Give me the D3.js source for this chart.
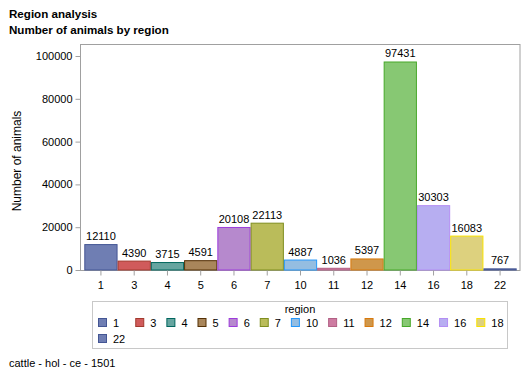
<!DOCTYPE html>
<html>
<head>
<meta charset="utf-8">
<script src="https://cdn.jsdelivr.net/npm/d3@7"></script>
<style>
  body { margin: 0; background: #fff; }
  text { font-family: "Liberation Sans", Arial, sans-serif; fill: #000; }
</style>
</head>
<body>
<div id="chart"></div>
<script>
const width = 529, height = 377,
    margin = ({ top: 44, right: 9, bottom: 107, left: 80 });

// data
const regions = ["1", "3", "4", "5", "6", "7", "10", "11", "12", "14", "16", "18", "22"];
const animals = [12110, 4390, 3715, 4591, 20108, 22113, 4887, 1036, 5397, 97431, 30303, 16083, 767];
const fills = ["#6F7EB3", "#D05B5B", "#66A5A0", "#A9865B", "#B689CD", "#BABC5A", "#94BDE1",
    "#CD7BA1", "#CF974B", "#87C873", "#B7AEF1", "#DDD17E", "#6F7EB3"];
const strokes = ["#445694", "#A23A2E", "#01665E", "#543005", "#9D3CDB", "#7F8E1F", "#2597FA",
    "#B26084", "#D8790D", "#47A82A", "#B38EF3", "#F9E200", "#445694"];
const yTicks = [0, 20000, 40000, 60000, 80000, 100000];

const svg = d3.select("#chart")
    .append("svg")
    .attr("width", width)
    .attr("height", height);

// titles
svg.append("text").attr("x", 9).attr("y", 18)
    .style("font-size", "11.6px").style("font-weight", "bold")
    .text("Region analysis");
svg.append("text").attr("x", 9).attr("y", 34)
    .style("font-size", "11.6px").style("font-weight", "bold")
    .text("Number of animals by region");

const plotBottom = 270;
const x = d3.scaleBand()
    .domain(regions)
    .range([margin.left + 4.3, width - margin.right - 3.3]);

const y = d3.scaleLinear()
    .domain([0, 100000])
    .range([plotBottom, 56]);

// frame
svg.append("rect")
    .attr("x", margin.left + 0.5)
    .attr("y", margin.top + 0.5)
    .attr("width", width - margin.right - margin.left - 0.5)
    .attr("height", plotBottom - margin.top)
    .attr("fill", "none")
    .attr("stroke", "#A0A0A0");

// bars
svg.selectAll(".bar")
    .data(regions)
    .enter()
    .append("rect")
    .attr("class", "bar")
    .attr("x", d => x(d) + 0.5)
    .attr("y", (d, i) => y(animals[i]) + 0.5)
    .attr("width", x.bandwidth() - 1)
    .attr("height", (d, i) => Math.max(plotBottom - y(animals[i]) - 0.5, 0.5))
    .attr("fill", (d, i) => fills[i])
    .attr("stroke", (d, i) => strokes[i]);

// bar labels
svg.selectAll(".lbl")
    .data(regions)
    .enter()
    .append("text")
    .attr("class", "lbl")
    .attr("x", d => x(d) + x.bandwidth() / 2)
    .attr("y", (d, i) => y(animals[i]) - 4)
    .attr("text-anchor", "middle")
    .style("font-size", "11px")
    .text((d, i) => animals[i]);

// axes
const xAxis = svg.append("g")
    .attr("transform", "translate(0," + (plotBottom + 0.5) + ")")
    .call(d3.axisBottom(x).tickSize(5).tickSizeOuter(0).tickPadding(6));
xAxis.select(".domain").remove();
xAxis.selectAll("line").attr("stroke", "#A0A0A0");
xAxis.selectAll("text").style("font-size", "11px").attr("fill", "#000")
    .style("font-family", "'Liberation Sans', Arial, sans-serif");

const yAxis = svg.append("g")
    .attr("transform", "translate(" + (margin.left + 0.5) + ",0)")
    .call(d3.axisLeft(y).tickValues(yTicks).tickSize(5).tickSizeOuter(0).tickPadding(3)
        .tickFormat(d3.format("d")));
yAxis.select(".domain").remove();
yAxis.selectAll("line").attr("stroke", "#A0A0A0");
yAxis.selectAll("text").style("font-size", "11px").attr("fill", "#000")
    .style("font-family", "'Liberation Sans', Arial, sans-serif");

svg.append("text")
    .attr("transform", "translate(21,161) rotate(-90)")
    .attr("text-anchor", "middle")
    .style("font-size", "12px")
    .text("Number of animals");

// legend, laid out as a grid of 12 columns
const legend = svg.append("g");
legend.append("rect")
    .attr("x", 92.5).attr("y", 301.5)
    .attr("width", 415).attr("height", 47)
    .attr("fill", "none").attr("stroke", "#C8C8C8");
legend.append("text")
    .attr("x", 300).attr("y", 313)
    .attr("text-anchor", "middle")
    .style("font-size", "11px")
    .text("region");

const nCols = 12;
const items = regions.map((r, i) => {
    const item = legend.append("g");
    item.append("rect")
        .attr("width", 8).attr("height", 8)
        .attr("x", 0.5).attr("y", 0.5)
        .attr("fill", fills[i]).attr("stroke", strokes[i]);
    const t = item.append("text")
        .attr("x", 15).attr("y", 8.5)
        .style("font-size", "11px")
        .text(r);
    return { g: item, w: t.node().getComputedTextLength() };
});
const colW = d3.range(nCols).map(c =>
    d3.max(items.filter((d, i) => i % nCols === c), d => d.w));
items.forEach((d, i) => {
    const c = i % nCols, row = Math.floor(i / nCols);
    const lx = 98 + d3.sum(colW.slice(0, c), w => 15 + w + 10);
    d.g.attr("transform", "translate(" + lx + "," + (318 + row * 16) + ")");
});

// footnote
svg.append("text")
    .attr("x", 9).attr("y", 367)
    .style("font-size", "11px")
    .text("cattle - hol - ce - 1501");
</script>
</body>
</html>
